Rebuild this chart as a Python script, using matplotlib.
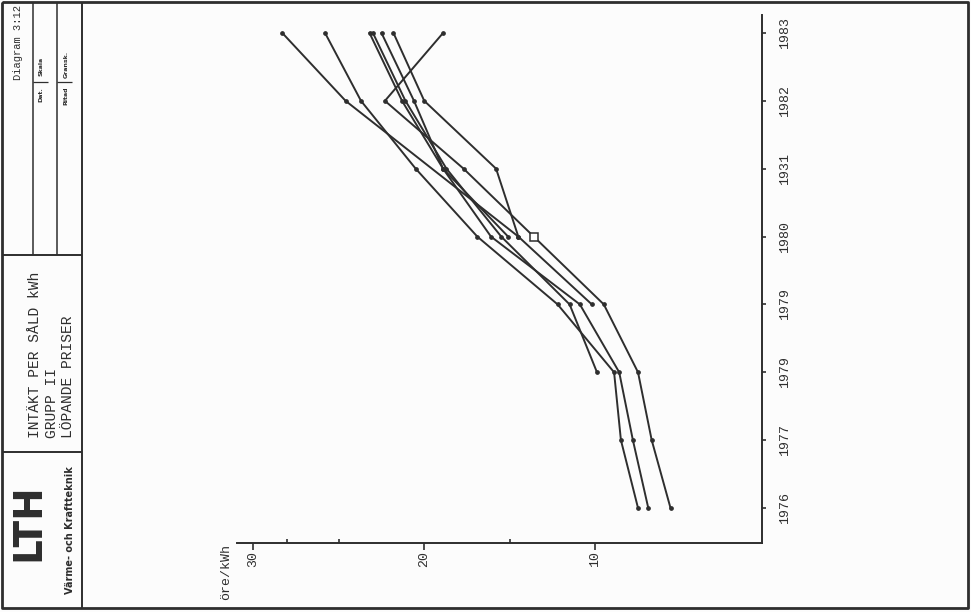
#
# Intäkt per såld kWh, grupp II, löpande priser (Diagram 3:12)
# sidan är vriden 90 grader, som i originalet
#
import numpy as np
import matplotlib
matplotlib.use('Agg')
import matplotlib.pyplot as plt

nan = np.nan

# år och värden (öre/kWh)
years = [1976, 1977, 1978, 1979, 1980, 1981, 1982, 1983]
year_labels = ['1976', '1977', '1979', '1979', '1980', '1931', '1982', '1983']

s1 = [7.5, 8.5, 8.9, 12.2, 16.9, 20.5, 23.7, 25.8]
s2 = [6.9, 7.8, 8.6, 10.9, 16.1, 18.9, 21.3, 23.2]
s3 = [5.6, 6.7, 7.5, 9.5, 13.6, 17.7, 22.3, 18.9]
s4 = [nan, nan, 9.9, 11.5, 15.5, 18.7, 21.1, 23.0]
s5 = [nan, nan, nan, 10.2, 14.5, 15.8, 20.0, 21.8]
s6 = [nan, nan, nan, nan, 15.1, 18.9, 20.6, 22.5]
s7 = [nan, nan, nan, nan, 14.5, nan, 24.6, 28.3]
serier = [s1, s2, s3, s4, s5, s6, s7]

value_ticks = [10, 20, 30]
value_minor = [15, 25, 28]

ink = '#2e2e2e'
mono = 'Liberation Mono'

fig = plt.figure(figsize=(9.71, 6.12), dpi=100)
fig.patch.set_facecolor('#fcfcfc')

# själva diagrammet: värde åt vänster, år uppåt
ax = fig.add_axes([237/971, 1 - 543/612, (762 - 237)/971, (543 - 15)/612])
ax.set_facecolor('none')
for s in serier:
    y = np.array(years, dtype=float)
    v = np.array(s, dtype=float)
    ok = ~np.isnan(v)
    ax.plot(v[ok], y[ok], color=ink, lw=1.4, marker='o', ms=2.4,
            mfc=ink, mec=ink, solid_joinstyle='miter')
# öppen kvadrat 1980
ax.plot(s3[4], years[4], marker='s', ms=6, mfc='white', mec=ink, mew=1.1, ls='none')

ax.set_xlim(30.95, 0.25)
ax.set_ylim(1975.484, 1983.265)

for side in ['left', 'top']:
    ax.spines[side].set_visible(False)
for side in ['right', 'bottom']:
    ax.spines[side].set_color(ink)
    ax.spines[side].set_linewidth(1.4)

ax.yaxis.tick_right()
ax.set_yticks(years)
ax.set_yticklabels(year_labels, rotation=90, va='center', fontfamily=mono,
                   fontsize=9.5, color=ink)
ax.tick_params(axis='y', direction='out', length=3, width=1.2, pad=9, colors=ink)

ax.set_xticks(value_ticks)
ax.set_xticklabels([str(t) for t in value_ticks], rotation=90, ha='center',
                   va='top', fontfamily=mono, fontsize=9.5, color=ink)
ax.set_xticks(value_minor, minor=True)
ax.tick_params(axis='x', which='major', direction='out', length=5, width=1.2,
               pad=1, colors=ink)
ax.tick_params(axis='x', which='minor', direction='in', length=3, width=1.2,
               colors=ink)

# sidan runt om: ram, titelruta och texter i pixelkoordinater
page = fig.add_axes([0, 0, 1, 1], zorder=-1)
page.set_xlim(0, 971)
page.set_ylim(612, 0)
page.axis('off')

def streck(xs, ys, lw=1.4):
    page.plot(xs, ys, color=ink, lw=lw, solid_capstyle='butt')

streck([2, 968, 968, 2, 2], [2, 2, 608, 608, 2], lw=2)
streck([82, 82], [2, 608])
streck([2, 82], [452, 452])
streck([2, 82], [255, 255])
streck([33, 33], [2, 255], lw=1.1)
streck([57, 57], [2, 255], lw=1.1)
streck([33, 48], [82, 82], lw=0.9)
streck([57, 72], [82, 82], lw=0.9)

page.text(18, 43, 'Diagram 3:12', rotation=90, ha='center', va='center',
          fontfamily=mono, fontsize=7.5, color=ink)
page.text(41, 95, 'Dat.', rotation=90, ha='center', va='center',
          fontsize=4.5, fontweight='bold', color=ink)
page.text(41, 66, 'Skala', rotation=90, ha='center', va='center',
          fontsize=4.5, fontweight='bold', color=ink)
page.text(66, 96, 'Ritad', rotation=90, ha='center', va='center',
          fontsize=4.5, fontweight='bold', color=ink)
page.text(66, 64, 'Gransk.', rotation=90, ha='center', va='center',
          fontsize=4.5, fontweight='bold', color=ink)

page.text(35, 438, 'INTÄKT PER SÅLD kWh', rotation=90, rotation_mode='anchor',
          ha='left', va='center', fontfamily=mono, fontsize=10.5, color=ink)
page.text(52, 438, 'GRUPP II', rotation=90, rotation_mode='anchor',
          ha='left', va='center', fontfamily=mono, fontsize=10.5, color=ink)
page.text(68, 438, 'LÖPANDE PRISER', rotation=90, rotation_mode='anchor',
          ha='left', va='center', fontfamily=mono, fontsize=10.5, color=ink)

page.text(28, 522, 'LTH', rotation=90, ha='center', va='center',
          fontsize=28, fontweight='bold', color=ink)
page.text(70, 530, 'Värme- och Kraftteknik', rotation=90, ha='center',
          va='center', fontsize=7, fontweight='bold', color=ink)

page.text(226, 572, 'öre/kWh', rotation=90, ha='center', va='center',
          fontfamily=mono, fontsize=9.5, color=ink)

fig.savefig('out.png', dpi=100, facecolor=fig.get_facecolor())
